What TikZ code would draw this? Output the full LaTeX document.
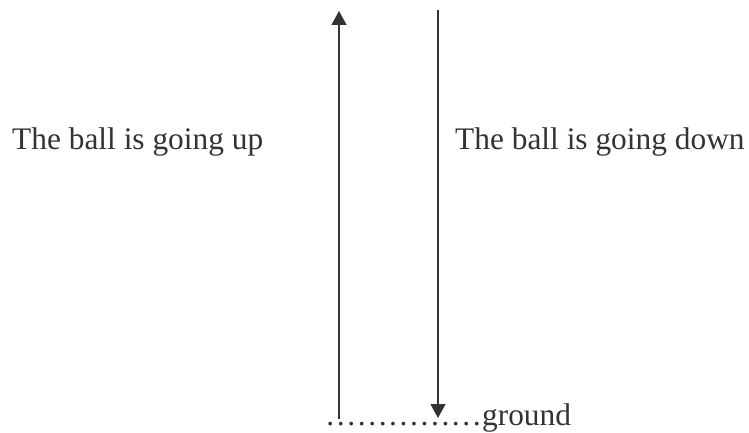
\documentclass[tikz,border=0pt]{standalone}
\usepackage{fontspec}
\setmainfont{Liberation Serif}
\usepackage{xcolor}
\usepackage{tikz}
\usetikzlibrary{arrows.meta, positioning}
\definecolor{tinta}{RGB}{51,51,51}

\begin{document}
\begin{tikzpicture}[
  x=1bp, y=-1bp,
  etiqueta/.style={anchor=base west, inner sep=0pt, text=tinta,
                   font=\fontsize{31.5}{36}\selectfont},
  flecha/.style={draw=tinta, line width=1.3bp,
                 -{Triangle[width=15bp, length=14bp]}}
]
  \useasboundingbox (0,0) rectangle (749,433);

  \coordinate (subeini) at (339,419);
  \coordinate (subefin) at (339,11);
  \coordinate (bajaini) at (438,10);
  \coordinate (bajafin) at (438,418);

  \node[etiqueta] (sube) at (12,150) {The ball is going up};
  \node[etiqueta] (baja) at (455,150) {The ball is going down};
  \node[etiqueta] (suelo) at (325,425) {……………ground};

  \draw[flecha] (subeini) -- (subefin);
  \draw[flecha] (bajaini) -- (bajafin);
\end{tikzpicture}
\end{document}
